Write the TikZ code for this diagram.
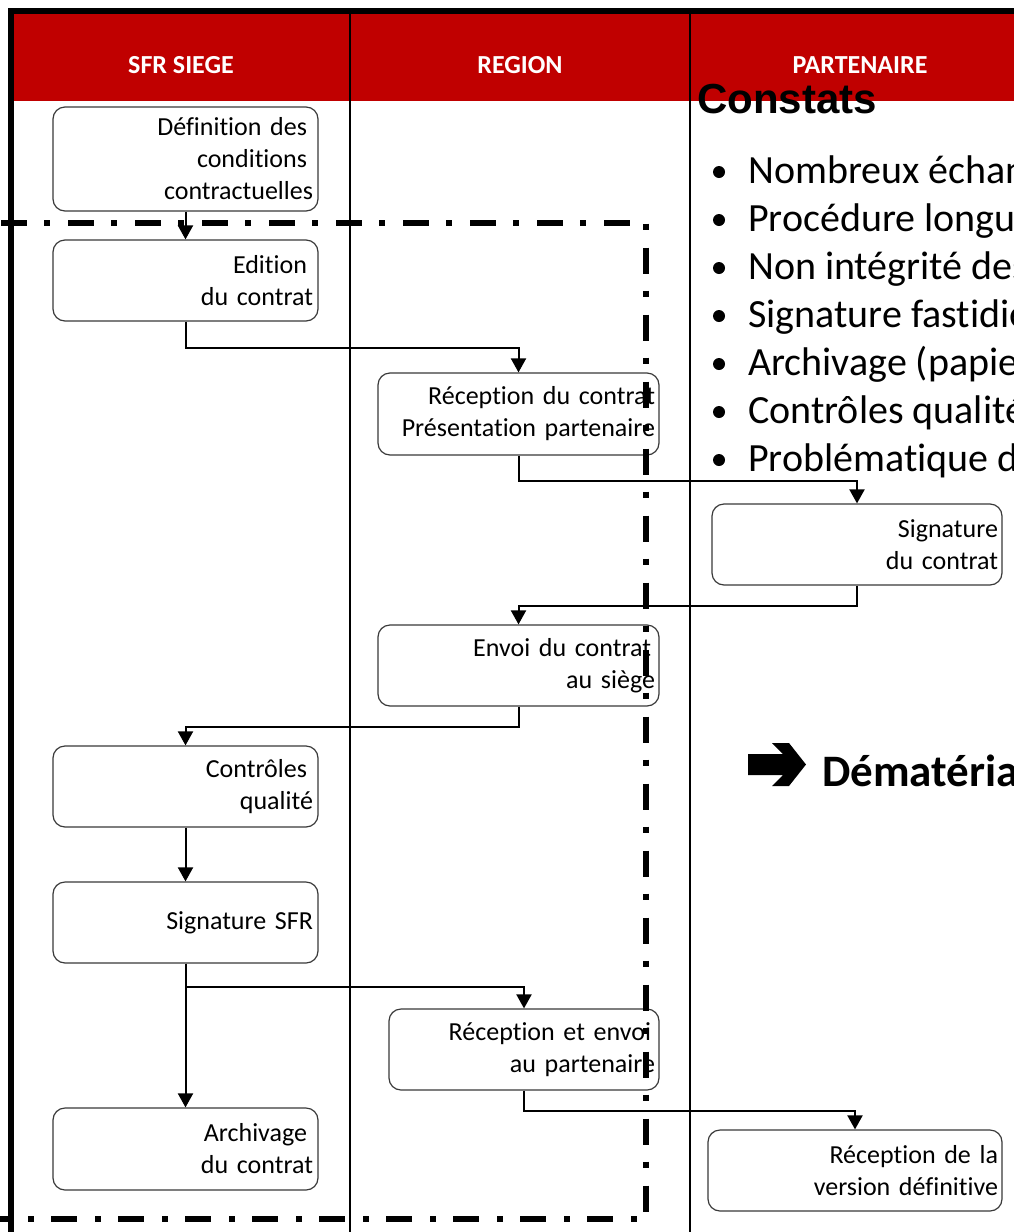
\documentclass[tikz,border=0pt]{standalone}
\usepackage{fontspec}
\setmainfont{Carlito}[Ligatures=NoCommon]
\newfontfamily\arialfont{Liberation Sans}
\usetikzlibrary{arrows.meta}
\definecolor{hdrred}{HTML}{C00000}
\definecolor{boxline}{HTML}{3A3A3A}
\newcommand{\trsp}{\hspace*{6pt}\null}
\begin{document}
\begin{tikzpicture}[x=1pt,y=-1pt,
  stepbox/.style={draw=boxline, line width=1.2pt, rounded corners=12pt, fill=white,
    align=right, inner xsep=5pt, inner ysep=0pt, font=\fontsize{26pt}{32pt}\selectfont},
  flow/.style={draw=black, line width=2pt, -{Triangle[width=15pt,length=14pt]}},
  lanehead/.style={text=white, font=\bfseries\fontsize{26pt}{30pt}\selectfont, anchor=base},
  bultext/.style={font=\fontsize{40pt}{48pt}\selectfont, anchor=base west, inner sep=0pt},
  lanerule/.style={line width=2pt},
  frame/.style={line width=6pt},
  scopebox/.style={line width=6pt, dash pattern=on 26pt off 17pt on 6pt off 18pt, dash phase=56pt}
]
\useasboundingbox (0,0) rectangle (1014,1232);
\begin{scope}
\clip (0,0) rectangle (1014,1232);
\fill[white] (0,0) rectangle (1014,1232);
% header band
\fill[hdrred] (14,14) rectangle (1014,101);
\node[lanehead] (h1) at (181,73) {SFR SIEGE};
\node[lanehead] (h2) at (520,73) {REGION};
\node[lanehead] (h3) at (860,73) {PARTENAIRE};
% lane rules and frame
\draw[lanerule] (350,14) -- (350,1232);
\draw[lanerule] (690,14) -- (690,1232);
\draw[frame] (11,1240) -- (11,11) -- (1020,11);

% Constats
\node[font=\arialfont\bfseries\fontsize{42pt}{48pt}\selectfont, anchor=base west, inner sep=0pt] (constats) at (697,113) {Constats};
\foreach \t [count=\i] in {Nombreux échanges, Procédure longue, Non intégrité des documents, Signature fastidieuse, Archivage (papier), Contrôles qualité, Problématique de}{
  \node[bultext] (b\i) at (748,{183+48*(\i-1)}) {\t};
  \fill (719,{172+48*(\i-1)}) circle (6pt);
}
% arrow + Dématérialisation
\fill (748,754) -- (783,754) -- (772,743) -- (789,743) -- (806,764.5) -- (789,786) -- (772,786) -- (783,775) -- (748,775) -- cycle;
\node[font=\bfseries\fontsize{45pt}{50pt}\selectfont, anchor=base west, inner sep=0pt] (demat) at (822,786) {Dématérialisation};

% process boxes
\node[stepbox, text width=255pt, minimum height=104pt] (def) at (185.5,159) {Définition des\trsp\\conditions\trsp\\contractuelles};
\node[stepbox, text width=255pt, minimum height=81pt] (edit) at (185.5,280.5) {Edition\trsp\\du contrat};
\node[stepbox, text width=273pt, inner xsep=4pt, minimum height=82pt] (recep) at (518.5,414) {Réception du contrat\\Présentation partenaire};
\node[stepbox, text width=282pt, inner xsep=4pt, minimum height=81pt] (sign) at (857,544.5) {Signature\\du contrat};
\node[stepbox, text width=273pt, inner xsep=4pt, minimum height=81pt] (envoi) at (518.5,665.5) {Envoi du contrat\hspace*{4pt}\null\\au siège};
\node[stepbox, text width=255pt, minimum height=81pt] (ctrl) at (185.5,786.5) {Contrôles\trsp\\qualité};
\node[stepbox, text width=255pt, minimum height=81pt] (sfr) at (185.5,922.5) {Signature SFR};
\node[stepbox, text width=262pt, inner xsep=4pt, minimum height=81pt] (recenv) at (524,1049.5) {Réception et envoi\hspace*{4pt}\null\\au partenaire};
\node[stepbox, text width=255pt, minimum height=82pt] (arch) at (185.5,1149) {Archivage\trsp\\du contrat};
\node[stepbox, text width=286pt, inner xsep=4pt, minimum height=81pt] (recdef) at (855,1170.5) {Réception de la\\version définitive};

% connectors
\draw[flow] (def) -- (edit);
\draw[flow] (edit.south) -- ++(0,26) -| (recep.north);
\draw[flow] (recep.south) -- ++(0,25) -| (sign.north);
\draw[flow] (sign.south) -- ++(0,20) -| (envoi.north);
\draw[flow] (envoi.south) -- ++(0,20) -| (ctrl.north);
\draw[flow] (ctrl) -- (sfr);
\draw[flow] (sfr) -- (arch);
\draw[flow] (sfr.south) -- ++(0,23) -| (recenv.north);
\draw[flow] (recenv.south) -- ++(0,20) -| (recdef.north);

% dash-dot scope frame
\draw[scopebox] (-10,222.5) -- (646,222.5) -- (646,1219) -- (-10,1219);
\end{scope}
\end{tikzpicture}
\end{document}
